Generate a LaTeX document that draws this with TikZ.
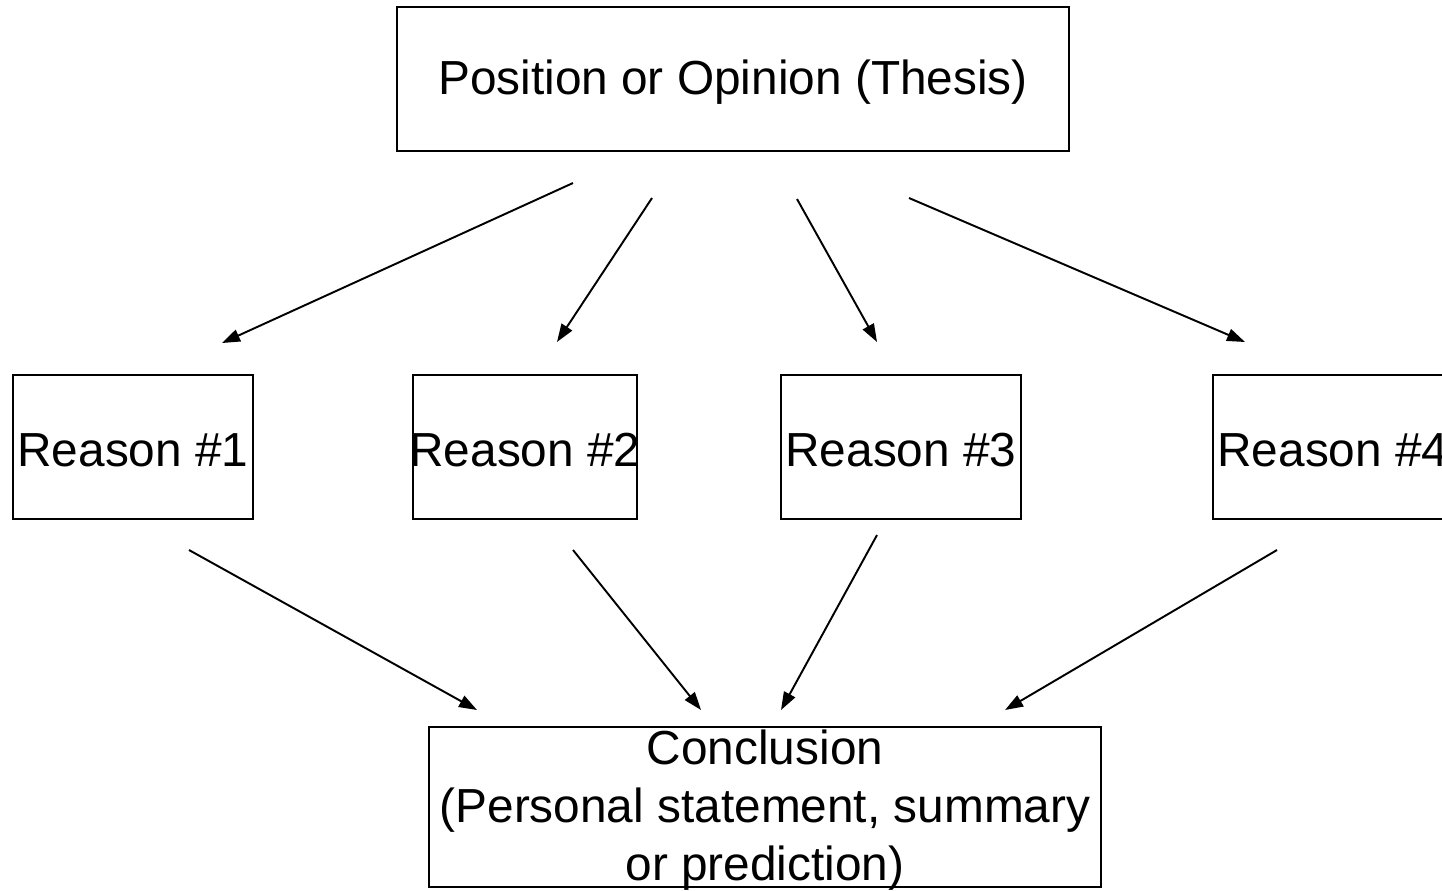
\documentclass[tikz,border=0pt]{standalone}
\usepackage{fontspec}
\setmainfont{Liberation Sans}
\usepackage{tikz}
\usetikzlibrary{arrows.meta}
\tikzset{
  box/.style={draw=black, line width=1.1pt, minimum height=2.88cm, inner sep=0pt},
  lab/.style={text=black, font=\fontsize{27.2}{33}\selectfont, align=center, inner sep=0pt, yshift=-0.07cm},
  link/.style={draw=black, line width=1.1pt, -{Triangle[length=0.36cm,width=0.25cm]}},
}

\begin{document}
\begin{tikzpicture}[x=0.02cm,y=-0.02cm]
  \useasboundingbox (0,0) rectangle (1442,890);
  \clip (0,0) rectangle (1442,890);

  % boxes
  \node[box, minimum width=13.44cm] (thesis) at (733,79) {};
  \node[box, minimum width=4.8cm] (r1) at (133,447) {};
  \node[box, minimum width=4.48cm] (r2) at (525,447) {};
  \node[box, minimum width=4.8cm] (r3) at (901,447) {};
  \node[box, minimum width=4.8cm] (r4) at (1333,447) {};
  \node[box, minimum width=13.44cm, minimum height=3.2cm] (concl) at (765,807) {};

  \node[lab] at (thesis) {Position or Opinion (Thesis)};
  \node[lab] at (r1) {Reason \#1};
  \node[lab] at (r2) {Reason \#2};
  \node[lab] at (r3) {Reason \#3};
  \node[lab] at (r4) {Reason \#4};
  \node[lab] at (concl) {Conclusion\\(Personal statement, summary\\or prediction)};

  % arrow ends (they float between the boxes)
  \coordinate (a1) at (573,183);  \coordinate (b1) at (222,343);
  \coordinate (a2) at (652,198);  \coordinate (b2) at (557,342);
  \coordinate (a3) at (797,199);  \coordinate (b3) at (877,342);
  \coordinate (a4) at (909,198);  \coordinate (b4) at (1245,342);
  \coordinate (c1) at (189,550);  \coordinate (d1) at (477,710);
  \coordinate (c2) at (573,550);  \coordinate (d2) at (701,710);
  \coordinate (c3) at (877,535);  \coordinate (d3) at (781,710);
  \coordinate (c4) at (1277,550); \coordinate (d4) at (1005,710);

  % thesis to reasons
  \draw[link] (a1)--(b1);
  \draw[link] (a2)--(b2);
  \draw[link] (a3)--(b3);
  \draw[link] (a4)--(b4);

  % reasons to conclusion
  \draw[link] (c1)--(d1);
  \draw[link] (c2)--(d2);
  \draw[link] (c3)--(d3);
  \draw[link] (c4)--(d4);
\end{tikzpicture}
\end{document}
